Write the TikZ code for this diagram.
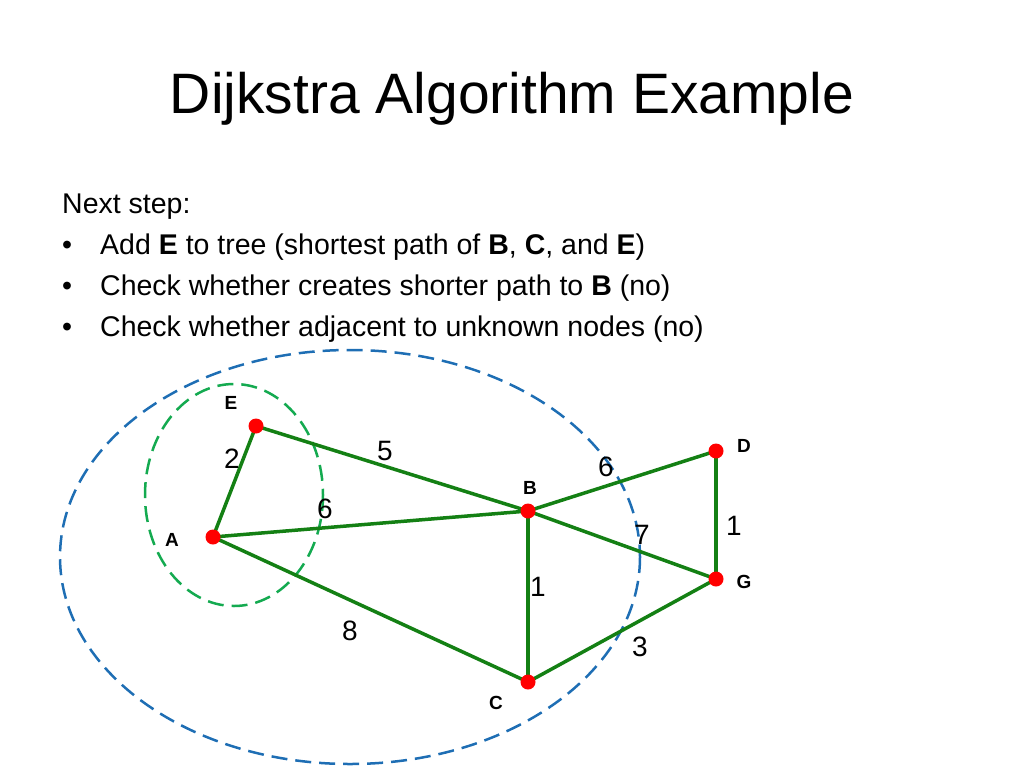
\documentclass[tikz,border=0pt]{standalone}
\usepackage{fontspec}
\setmainfont{Liberation Sans}
\usepackage{xcolor}
\definecolor{edgegreen}{RGB}{20,128,20}
\definecolor{ringblue}{RGB}{30,110,180}
\definecolor{ringgreen}{RGB}{20,170,80}
\tikzset{
  vertex/.style={circle,fill=red,inner sep=0pt,minimum size=15pt},
  edge/.style={edgegreen,line width=3.5pt},
  vname/.style={font=\fontsize{19}{21}\selectfont\bfseries},
  weight/.style={font=\fontsize{28}{30}\selectfont},
  line/.style={anchor=base west,font=\fontsize{28.5}{32}\selectfont,inner sep=0pt}
}
\begin{document}
\begin{tikzpicture}[x=1pt,y=-1pt]
	\useasboundingbox (0,0) rectangle (1024,768);

	\node[font=\fontsize{57}{60}\selectfont] (title) at (512,99) {Dijkstra Algorithm Example};
	\node[line] (l0) at (62,213) {Next step:};
	\node[line] (b1) at (62,254) {\textbullet};
	\node[line] (t1) at (100,254) {Add \textbf{E} to tree (shortest path of \textbf{B}, \textbf{C}, and \textbf{E})};
	\node[line] (b2) at (62,295) {\textbullet};
	\node[line] (t2) at (100,295) {Check whether creates shorter path to \textbf{B} (no)};
	\node[line] (b3) at (62,336) {\textbullet};
	\node[line] (t3) at (100,336) {Check whether adjacent to unknown nodes (no)};

	% rings
	\draw[ringblue,line width=2.5pt,dash pattern=on 16pt off 8pt] (350,557) ellipse (290 and 207);
	\draw[ringgreen,line width=2.5pt,dash pattern=on 16pt off 8pt] (234,495) ellipse (89 and 111);

	% graph
	\coordinate (E) at (256,426);
	\coordinate (A) at (213,537);
	\coordinate (B) at (528,511);
	\coordinate (D) at (716,451);
	\coordinate (G) at (716,579);
	\coordinate (C) at (528,682);

	\draw[edge] (A) -- (E);
	\draw[edge] (E) -- (B);
	\draw[edge] (A) -- (B);
	\draw[edge] (A) -- (C);
	\draw[edge] (B) -- (C);
	\draw[edge] (B) -- (D);
	\draw[edge] (B) -- (G);
	\draw[edge] (D) -- (G);
	\draw[edge] (C) -- (G);

	\foreach \v in {E,A,B,D,G,C}
		\node[vertex] (n\v) at (\v) {};

	\node[vname] (lE) at (231,403) {E};
	\node[vname] (lA) at (172,540) {A};
	\node[vname] (lB) at (530,488) {B};
	\node[vname] (lD) at (744,446) {D};
	\node[vname] (lG) at (744,582) {G};
	\node[vname] (lC) at (496,703) {C};

	\node[weight] (wAE) at (232,459) {2};
	\node[weight] (wEB) at (385,451) {5};
	\node[weight] (wAB) at (325,509) {6};
	\node[weight] (wBD) at (606,467) {6};
	\node[weight] (wBG) at (642,535) {7};
	\node[weight] (wBC) at (538,587) {1};
	\node[weight] (wDG) at (734,526) {1};
	\node[weight] (wAC) at (350,631) {8};
	\node[weight] (wCG) at (640,647) {3};
\end{tikzpicture}
\end{document}
